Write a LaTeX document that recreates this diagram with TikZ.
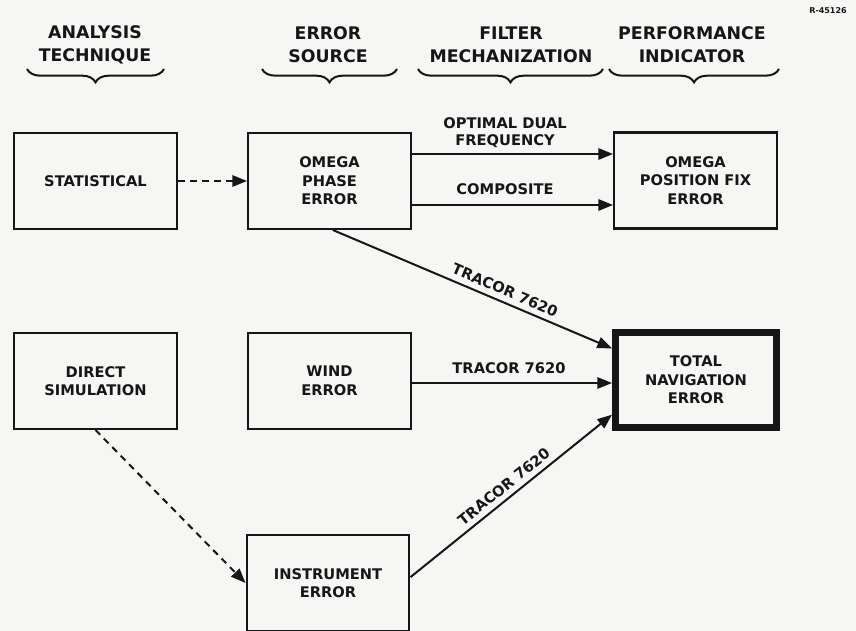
\documentclass[tikz,border=0pt]{standalone}
\usepackage{fontspec}
\setmainfont{DejaVu Sans}
\usetikzlibrary{arrows.meta,decorations.pathreplacing,calc}
\definecolor{paper}{RGB}{246,246,244}
\definecolor{ink}{RGB}{22,22,22}
\begin{document}
\begin{tikzpicture}[x=0.75pt,y=-0.75pt,
  box/.style={draw=ink, line width=1.8pt, minimum width=121.9pt, minimum height=71.7pt,
    inner sep=0pt, align=center, text=ink, font=\fontsize{11}{13.9}\selectfont\bfseries},
  totalbox/.style={box, line width=5pt, minimum width=121pt, minimum height=71.5pt},
  arr/.style={draw=ink, line width=1.5pt, -{Triangle[length=11pt,width=8.5pt]}},
  darr/.style={arr, dash pattern=on 5pt off 4pt},
  lbl/.style={text=ink, align=center, inner sep=0pt, font=\fontsize{11}{12.7}\selectfont\bfseries},
  hdr/.style={text=ink, align=center, inner sep=0pt, font=\fontsize{13}{17.25}\selectfont\bfseries},
  brc/.style={draw=ink, line width=1.5pt, decorate, decoration={brace, amplitude=10pt, mirror}}]

\path[use as bounding box, fill=paper] (0,0) rectangle (856,631);

% headers
\node[hdr] (h1) at (95,44.5) {ANALYSIS\\TECHNIQUE};
\node[hdr] (h2) at (328,44.5) {ERROR\\SOURCE};
\node[hdr] (h3) at (511,44.5) {FILTER\\MECHANIZATION};
\node[hdr] (h4) at (692,44.5) {PERFORMANCE\\INDICATOR};
\node[text=ink, inner sep=0pt, font=\fontsize{6}{7}\selectfont\bfseries] (rno) at (828,11) {R-45126};

% braces
\coordinate (b1a) at (27,69);  \coordinate (b1b) at (164,69);
\coordinate (b2a) at (262,69); \coordinate (b2b) at (397,69);
\coordinate (b3a) at (418,69); \coordinate (b3b) at (603,69);
\coordinate (b4a) at (609,69); \coordinate (b4b) at (779,69);
\draw[brc] (b1a) -- (b1b);
\draw[brc] (b2a) -- (b2b);
\draw[brc] (b3a) -- (b3b);
\draw[brc] (b4a) -- (b4b);

% boxes
\node[box] (stat) at (95.5,181) {STATISTICAL};
\node[box] (phase) at (329.5,181) {OMEGA\\PHASE\\ERROR};
\node[box] (fix) at (695.5,180.5) {OMEGA\\POSITION FIX\\ERROR};
\node[box] (direct) at (95.5,381) {DIRECT\\SIMULATION};
\node[box] (wind) at (329.5,381) {WIND\\ERROR};
\node[totalbox] (total) at (696,380) {TOTAL\\NAVIGATION\\ERROR};
\node[box] (instr) at (328,583) {INSTRUMENT\\ERROR};

% connectors
\draw[darr] (stat) -- (phase);
\draw[arr] (phase.east |- 0,154) -- (fix.west |- 0,154);
\node[lbl] (ldual) at (505,132.5) {OPTIMAL DUAL\\FREQUENCY};
\draw[arr] (phase.east |- 0,205) -- (fix.west |- 0,205);
\node[lbl] (lcomp) at (505,189) {COMPOSITE};

\draw[arr] ($(phase.south west)!0.52!(phase.south east)$) --
  node[lbl, sloped, above=4pt, pos=0.6] (lt1) {TRACOR 7620}
  ($(total.north west)!0.19!(total.south west)$);

\draw[arr] (wind.east |- 0,383) -- (total.west |- 0,383);
\node[lbl] (lt2) at (509,368) {TRACOR 7620};

\draw[arr] ($(instr.north east)!0.44!(instr.south east)$) --
  node[lbl, sloped, above=4pt, pos=0.5] (lt3) {TRACOR 7620}
  ($(total.north west)!0.84!(total.south west)$);

\draw[darr] (direct.south) -- (instr.west);
\end{tikzpicture}
\end{document}
